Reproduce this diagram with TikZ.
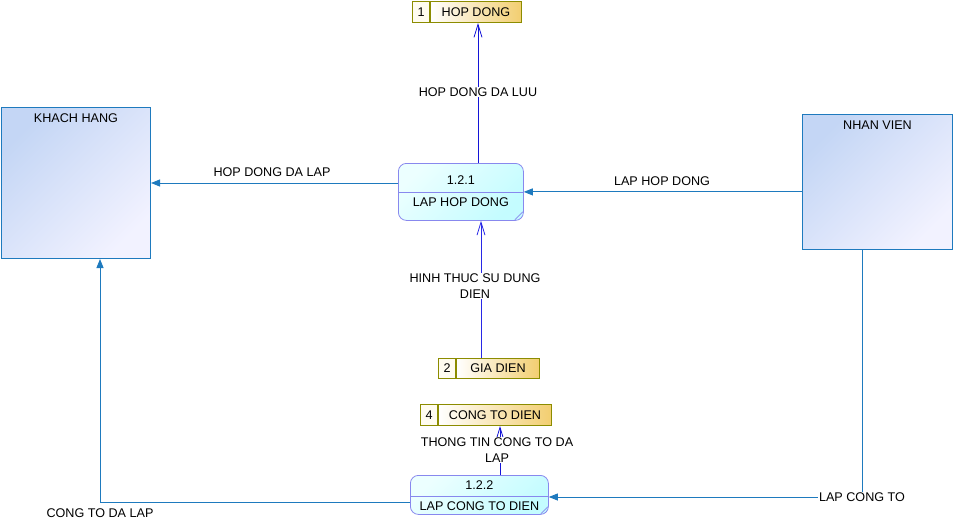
\documentclass[tikz,border=0pt]{standalone}
\usepackage{fontspec}
\setmainfont{Liberation Sans}
\usetikzlibrary{arrows.meta,calc}
\definecolor{flowc}{RGB}{30,122,190}
\definecolor{darkflow}{RGB}{20,20,215}
\definecolor{midflow}{RGB}{40,40,230}
\definecolor{entA}{RGB}{196,214,245}
\definecolor{entB}{RGB}{242,242,255}
\definecolor{entBorder}{RGB}{30,122,190}
\definecolor{procA}{RGB}{236,255,255}
\definecolor{procB}{RGB}{196,252,255}
\definecolor{procBorder}{RGB}{136,136,238}
\definecolor{storeA}{RGB}{255,252,240}
\definecolor{storeB}{RGB}{242,206,112}
\definecolor{storeBorder}{RGB}{140,140,0}
\tikzset{
  every node/.style={font=\fontsize{12.6}{16}\selectfont, text=black, inner sep=1pt},
  entity/.style={draw=entBorder, line width=1pt, shading=axis, left color=entA, right color=entB, shading angle=45, minimum width=149pt, minimum height=151pt, anchor=north west},
  proc/.style={draw=procBorder, line width=0.8pt, rounded corners=8pt, shading=axis, left color=procA, right color=procB, shading angle=45, anchor=north west},
  storenum/.style={draw=storeBorder, line width=1pt, fill=storeA, minimum height=21pt, minimum width=17pt, anchor=north west, inner sep=0pt},
  storebox/.style={draw=storeBorder, line width=1pt, shading=axis, left color=white, right color=storeB, minimum height=21pt, anchor=north west, inner sep=0pt},
  flow/.style={draw=flowc, line width=0.9pt, -{Triangle[length=9pt,width=7pt]}},
  sflow/.style={line width=0.9pt, -{Straight Barb[length=13pt,width=8pt,line width=0.8pt]}},
  lbl/.style={fill=white, inner sep=1pt, align=center},
}
\begin{document}
\begin{tikzpicture}[x=1pt,y=-1pt]
\useasboundingbox (0,0) rectangle (953,524);
% entities
\node[entity] (kh) at (1,107) {};
\node[anchor=north] at ($(kh.north)+(0,5.5)$) {KHACH HANG};
\node[entity, minimum height=135pt, minimum width=150pt] (nv) at (802,114) {};
\node[anchor=north] at ($(nv.north)+(0,5.5)$) {NHAN VIEN};
% processes
\node[proc, minimum width=125pt, minimum height=57pt] (p1) at (398,163) {};
\draw[procBorder, line width=0.8pt] ($(p1.north west)+(0,29)$) -- ($(p1.north east)+(0,29)$);
\draw[procBorder, line width=0.6pt] ($(p1.south east)+(-9,-1)$) -- ($(p1.south east)+(-1,-9)$);
\node (p1a) at ($(p1.north)+(0,17)$) {1.2.1};
\node (p1b) at ($(p1.north)+(0,39)$) {LAP HOP DONG};
\node[proc, minimum width=138pt, minimum height=39pt] (p2) at (410,475) {};
\draw[procBorder, line width=0.8pt] ($(p2.north west)+(0,21)$) -- ($(p2.north east)+(0,21)$);
\draw[procBorder, line width=0.6pt] ($(p2.south east)+(-8,-1)$) -- ($(p2.south east)+(-1,-8)$);
\node (p2a) at ($(p2.north)+(0,10)$) {1.2.2};
\node (p2b) at ($(p2.north)+(0,31)$) {LAP CONG TO DIEN};
% stores
\node[storenum] (hdn) at (412,1) {1};
\node[storebox, minimum width=91pt] (hd) at (hdn.north east) {HOP DONG};
\node[storenum, minimum height=20pt] (gdn) at (438,358) {2};
\node[storebox, minimum width=83pt, minimum height=20pt] (gd) at (gdn.north east) {GIA DIEN};
\node[storenum] (ctn) at (420,404) {4};
\node[storebox, minimum width=113pt] (ct) at (ctn.north east) {CONG TO DIEN};
% helper coordinates
\coordinate (hdx) at (478,0);
\coordinate (gdx) at (481,0);
\coordinate (ctx) at (500,0);
\coordinate (lct) at (862,497);
\coordinate (cdl) at (100,502);
% flows
\draw[flow] (kh.east -| p1.west) -- (kh.east);
\node at (272,172) {HOP DONG DA LAP};
\draw[flow] (p1.east -| nv.west) -- (p1.east);
\node at (662,181) {LAP HOP DONG};
\draw[sflow, darkflow] (p1.north -| hdx) -- (hd.south -| hdx);
\node[lbl] at (478,92) {HOP DONG DA LUU};
\draw[sflow, midflow] (gd.north -| gdx) -- (p1.south -| gdx);
\node[lbl] at (475,286) {HINH THUC SU DUNG\\DIEN};
\draw[sflow, darkflow] (p2.north -| ctx) -- (ct.south -| ctx);
\node[lbl] at (497,450) {THONG TIN CONG TO DA\\LAP};
\draw[flow] (nv.south -| lct) -- (lct) -- (lct -| p2.east);
\node[lbl] at (lct) {LAP CONG TO};
\draw[flow] (cdl -| p2.west) -- (cdl) -- (kh.south -| cdl);
\node at (100,513) {CONG TO DA LAP};
\end{tikzpicture}
\end{document}
